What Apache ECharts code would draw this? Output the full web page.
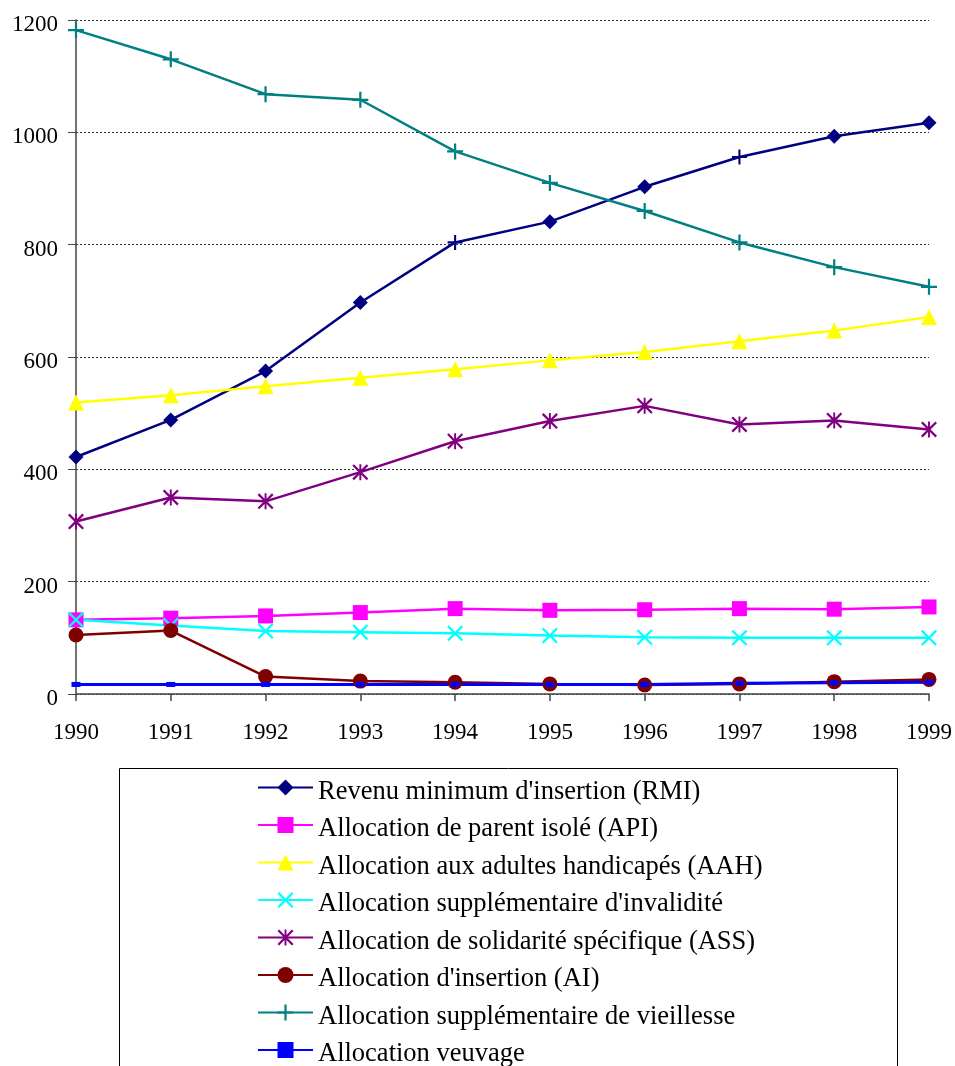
<!DOCTYPE html>
<html>
<head>
<meta charset="utf-8">
<script src="https://cdn.jsdelivr.net/npm/echarts@6/dist/echarts.min.js"></script>
<style>
html,body{margin:0;padding:0;background:#fff;}
#chart{width:955px;height:1066px;}
</style>
</head>
<body>
<div id="chart"></div>
<script>
const years = ['1990','1991','1992','1993','1994','1995','1996','1997','1998','1999'];
const yTicks = [0, 200, 400, 600, 800, 1000, 1200];

const names = [
  "Revenu minimum d'insertion (RMI)",
  "Allocation de parent isolé (API)",
  "Allocation aux adultes handicapés (AAH)",
  "Allocation supplémentaire d'invalidité",
  "Allocation de solidarité spécifique (ASS)",
  "Allocation d'insertion (AI)",
  "Allocation supplémentaire de vieillesse",
  "Allocation veuvage"
];

const rmi  = [422, 488, 575, 697, 804, 841, 903, 956, 993, 1017];
const api  = [132, 135, 139, 145, 152, 149, 150, 152, 151, 155];
const aah  = [519, 532, 548, 563, 578, 594, 609, 628, 647, 671];
const asi  = [132, 122, 112, 110, 108, 104, 101, 100, 100, 100];
const ass  = [307, 350, 343, 395, 450, 486, 513, 480, 487, 471];
const ai   = [105, 113, 31, 23, 21, 18, 16, 18, 22, 26];
const asv  = [1182, 1130, 1068, 1058, 966, 910, 860, 804, 760, 725];
const veuv = [17, 17, 17, 17, 17, 17, 17, 19, 20, 21];

// years where the source drew the RMI point with a cross glyph
const rmiCrossYears = ['1994', '1997'];

const P_X = 'path://M0,2 L2,0 L10,8 L18,0 L20,2 L12,10 L20,18 L18,20 L10,12 L2,20 L0,18 L8,10 Z';
const P_STAR = 'path://M0,2 L2,0 L10,8 L18,0 L20,2 L12,10 L20,18 L18,20 L10,12 L2,20 L0,18 L8,10 Z M8.8,0 L11.2,0 L11.2,20 L8.8,20 Z';
const P_PLUS = 'path://M8.6,0 L11.4,0 L11.4,8.6 L20,8.6 L20,11.4 L11.4,11.4 L11.4,20 L8.6,20 L8.6,11.4 L0,11.4 L0,8.6 L8.6,8.6 Z';

function mk(name, data, color, symbol, size, width) {
  return {
    name: name,
    type: 'line',
    data: data,
    symbol: symbol,
    symbolSize: size,
    showSymbol: true,
    lineStyle: { color: color, width: width || 2.5 },
    itemStyle: { color: color },
    emphasis: { disabled: true }
  };
}

const rmiData = rmi.map((v, i) => rmiCrossYears.includes(years[i])
  ? { value: v, symbol: P_PLUS, symbolSize: 15 } : v);

const series = [
  mk(names[0], rmiData, '#000080', 'diamond', 15),
  mk(names[1], api, '#FF00FF', 'rect', 15),
  mk(names[2], aah, '#FFFF00', 'triangle', 16),
  mk(names[3], asi, '#00FFFF', P_X, 16),
  mk(names[4], ass, '#800080', P_STAR, 16),
  mk(names[5], ai, '#800000', 'circle', 15),
  mk(names[6], asv, '#008080', P_PLUS, 16),
  mk(names[7], veuv, '#0000FF', 'rect', [9, 5], 3)
];

const chart = echarts.init(document.getElementById('chart'));
chart.setOption({
  animation: false,
  backgroundColor: '#fff',
  grid: { left: 76, right: 24, top: 20, bottom: 372, containLabel: false },
  xAxis: {
    type: 'category',
    data: years,
    boundaryGap: false,
    axisLine: { show: true, lineStyle: { color: '#444', width: 1.5 } },
    axisTick: { show: true, length: 7, lineStyle: { color: '#444', width: 1.5 } },
    axisLabel: { color: '#000', fontFamily: 'Liberation Serif', fontSize: 23, margin: 27 },
    splitLine: { show: false }
  },
  yAxis: {
    type: 'value',
    min: yTicks[0],
    max: yTicks[yTicks.length - 1],
    interval: 200,
    axisLine: { show: true, lineStyle: { color: '#444', width: 1.5 } },
    axisTick: { show: true, length: 8, lineStyle: { color: '#444', width: 1 } },
    axisLabel: {
      color: '#000', fontFamily: 'Liberation Serif', fontSize: 23, margin: 18,
      verticalAlign: 'top', lineHeight: 10,
      formatter: function (v) { return String(v); }
    },
    splitLine: { show: true, lineStyle: { color: '#333', width: 1, type: [2, 2] } }
  },
  legend: {
    orient: 'vertical',
    left: 257,
    top: 769.5,
    height: 340,
    padding: 0,
    itemWidth: 55,
    itemHeight: 20,
    itemGap: 1.5,
    selectedMode: false,
    formatter: function (name) { return '{t|' + name + '}'; },
    textStyle: {
      color: '#000', fontFamily: 'Liberation Serif', fontSize: 26.5, lineHeight: 26,
      rich: {
        t: { color: '#000', fontFamily: 'Liberation Serif', fontSize: 26.5, lineHeight: 26, padding: [9, 0, 0, 0] }
      }
    },
    data: names
  },
  graphic: [{
    type: 'rect',
    silent: true,
    z: -1,
    shape: { x: 119.5, y: 768.5, width: 778, height: 400 },
    style: { fill: 'none', stroke: '#000', lineWidth: 1 }
  }],
  series: series
});
</script>
</body>
</html>
